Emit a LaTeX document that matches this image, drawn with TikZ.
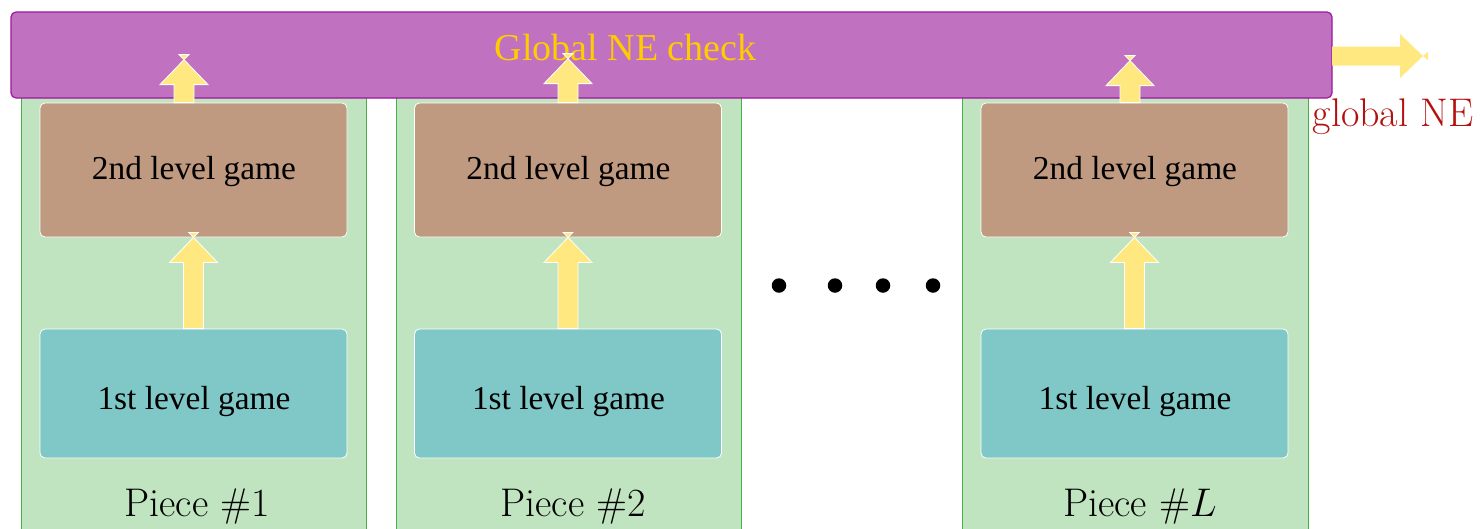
\documentclass[tikz,border=0pt]{standalone}
\usepackage{fix-cm}
\usepackage{fontspec}
\newfontfamily\tms{Liberation Serif}
\usetikzlibrary{calc}
\definecolor{purp}{RGB}{192,113,192}
\definecolor{purpd}{RGB}{155,25,155}
\definecolor{grn}{RGB}{192,227,192}
\definecolor{grnd}{RGB}{70,175,70}
\definecolor{brn}{RGB}{191,153,128}
\definecolor{tea}{RGB}{128,200,200}
\definecolor{yel}{RGB}{255,232,128}
\definecolor{goldt}{RGB}{255,204,0}
\definecolor{dred}{RGB}{180,16,16}
\tikzset{
  colbox/.style={draw=grnd, line width=0.8pt, fill=grn, rectangle, inner sep=0pt},
  topbox/.style={draw=purpd, line width=1.2pt, fill=purp, rounded corners=5pt, rectangle, inner sep=0pt},
  gamebox/.style={draw=white, line width=0.8pt, rounded corners=5pt, rectangle, inner sep=0pt, minimum width=307pt},
  secbox/.style={gamebox, fill=brn, minimum height=134pt},
  firstbox/.style={gamebox, fill=tea, minimum height=129pt},
  gametext/.style={inner sep=0pt, anchor=base, font=\tms\fontsize{33.4}{36}\selectfont},
  piecetext/.style={inner sep=0pt, anchor=base, font=\fontsize{40}{44}\selectfont},
  arrowshape/.style={fill=yel, draw=white, line width=0.8pt, line join=miter},
  dotstyle/.style={circle, fill=black, inner sep=0pt, minimum size=14.5pt}
}
% #1 bottom point, #2 tip point (vertical upward arrow)
\newcommand\fatuparrow[2]{%
  \path[arrowshape] let \p1=#1, \p2=#2 in
    (\x1-10pt,\y1) -- (\x1-10pt,\y2-25pt) -- (\x1-24pt,\y2-25pt) -- (\x1,\y2)
    -- (\x1+24pt,\y2-25pt) -- (\x1+10pt,\y2-25pt) -- (\x1+10pt,\y1) -- cycle;
  \path[arrowshape] let \p1=#1, \p2=#2 in
    (\x1-5pt,\y2+5pt) -- (\x1+5pt,\y2+5pt) -- (\x1,\y2) -- cycle;
}
\begin{document}
\begin{tikzpicture}[x=1pt,y=-1pt]
\useasboundingbox (0,0) rectangle (1480,528);
\clip (0,0) rectangle (1480,528);
% piece columns
\node[colbox, minimum width=345pt, minimum height=448pt] (c1) at (193.5,316) {};
\node[colbox, minimum width=345pt, minimum height=448pt] (c2) at (568.5,316) {};
\node[colbox, minimum width=346pt, minimum height=448pt] (c3) at (1135,316) {};
% global box
\node[topbox, minimum width=1321pt, minimum height=86pt] (g) at (671.5,55) {};
\node[inner sep=0pt, anchor=base, text=goldt, font=\tms\fontsize{38}{40}\selectfont] (gt) at (625.5,60) {Global NE check};
% game boxes
\node[secbox] (b1) at (193.5,170) {};
\node[secbox] (b2) at (568,170) {};
\node[secbox] (b3) at (1134.5,170) {};
\node[firstbox] (t1) at (193.5,393.5) {};
\node[firstbox] (t2) at (568,393.5) {};
\node[firstbox] (t3) at (1134.5,393.5) {};
\node[gametext] (b1t) at (194,179.5) {2nd level game};
\node[gametext] (b2t) at (568.5,179.5) {2nd level game};
\node[gametext] (b3t) at (1135,179.5) {2nd level game};
\node[gametext] (t1t) at (194,409) {1st level game};
\node[gametext] (t2t) at (568.5,409) {1st level game};
\node[gametext] (t3t) at (1135,409) {1st level game};
\node[piecetext] (p1) at (197,516) {Piece $\#1$};
\node[piecetext] (p2) at (573,516) {Piece $\#2$};
\node[piecetext] (p3) at (1140,516) {Piece $\#L$};
% arrows first -> second level
\fatuparrow{(t1.north)}{(b1.south)}
\fatuparrow{(t2.north)}{(b2.south)}
\fatuparrow{(t3.north)}{(b3.south)}
% arrows second level -> global check
\coordinate (a1) at ($(b1.north)+(-9.5,0)$);
\coordinate (a2) at (b2.north);
\coordinate (a3) at ($(b3.north)+(-4.5,0)$);
\coordinate (h1) at ($(a1)+(0,-43)$);
\coordinate (h2) at ($(a2)+(0,-44)$);
\coordinate (h3) at ($(a3)+(0,-42)$);
\fatuparrow{(a1)}{(h1)}
\fatuparrow{(a2)}{(h2)}
\fatuparrow{(a3)}{(h3)}
% output arrow
\coordinate (os) at (1332,56);
\coordinate (oe) at (1423,56);
\path[fill=yel] let \p1=(os), \p2=(oe) in
  (\x1,\y1+9.5pt) -- (\x2-23pt,\y1+9.5pt) -- (\x2-23pt,\y1+22pt) -- (\x2,\y1)
  -- (\x2-23pt,\y1-22pt) -- (\x2-23pt,\y1-9.5pt) -- (\x1,\y1-9.5pt) -- cycle;
\path[fill=yel] let \p2=(oe) in
  (\x2+5pt,\y2+4pt) -- (\x2+5pt,\y2-4pt) -- (\x2,\y2) -- cycle;
\node[inner sep=0pt, anchor=base west, text=dred, font=\fontsize{40}{44}\selectfont] (ne) at (1312.5,126) {global NE};
% dots
\node[dotstyle] (d1) at (779,285.5) {};
\node[dotstyle] (d2) at (835,285.5) {};
\node[dotstyle] (d3) at (883,285.5) {};
\node[dotstyle] (d4) at (933,285.5) {};
\end{tikzpicture}
\end{document}
